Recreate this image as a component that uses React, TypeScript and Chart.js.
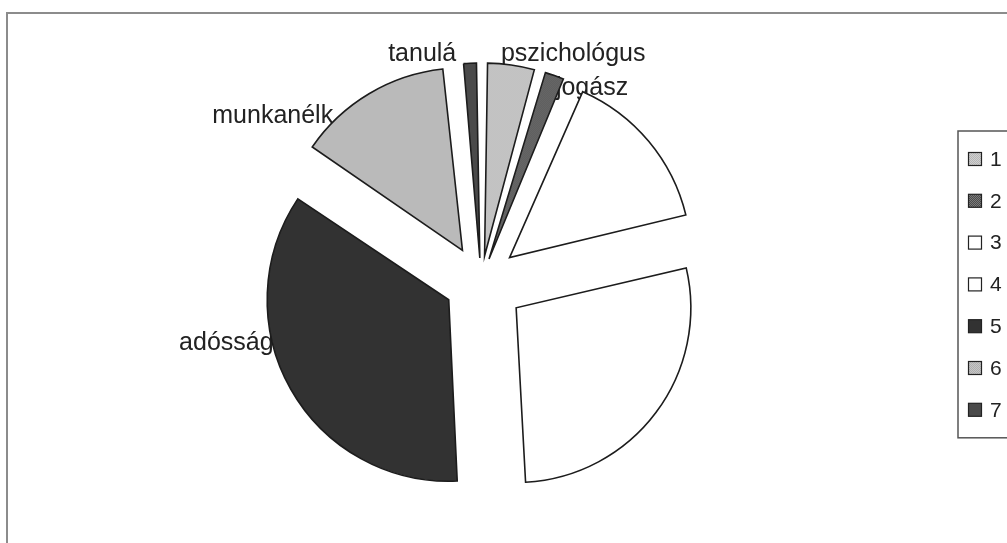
import React, { useEffect, useRef } from "react";
import { Chart, registerables } from "chart.js";

Chart.register(...registerables);

// ---- data ----
const categories = ["1", "2", "3", "4", "5", "6", "7"];
const sliceNames = ["pszichológus", "jogász", "klubok", "Bihar", "adósságkezelés", "munkanélk.", "tanulá"];
const values = [4.4, 2.1, 14.8, 27.8, 35.3, 13.9, 1.6];

// ---- style / layout ----
const sliceColors = ["#d0d0d0", "#4c4c4c", "#ffffff", "#ffffff", "#323232", "#c6c6c6", "#4a4a4a"];
// second tone for the dotted (patterned) fills; null = solid
const dotColors: (string | null)[] = ["#b6b6b6", "#7a7a7a", null, null, null, "#aeaeae", null];
const EXPLODE = 44.6; // px each slice is pulled out from centre
const RADIUS = 174;
// label anchor (text centre, baseline) relative to pie centre, in units of radius
const labelPlacement: number[][] = [
  [0.53, -1.268],
  [0.638, -1.072],
  [0.743, -0.486],
  [0.72, 0.364],
  [-1.22, 0.393],
  [-1.177, -0.911],
  [-0.338, -1.268],
];
const FONT = '"Liberation Sans", Arial, sans-serif';

const total = values.reduce((a, b) => a + b, 0);

function makeFill(base: string, dot: string | null): string | CanvasPattern {
  if (!dot) return base;
  const c = document.createElement("canvas");
  c.width = 2;
  c.height = 2;
  const g = c.getContext("2d")!;
  g.fillStyle = base;
  g.fillRect(0, 0, 2, 2);
  g.fillStyle = dot;
  g.fillRect(0, 0, 1, 1);
  g.fillRect(1, 1, 1, 1);
  const p = g.createPattern(c, "repeat");
  return p || base;
}

const decor = {
  id: "decor",
  beforeDatasetsDraw(chart: any) {
    const ctx = chart.ctx as CanvasRenderingContext2D;
    const meta = chart.getDatasetMeta(0);
    const a0 = meta.data[0];
    const cx = a0.x;
    const cy = a0.y;
    const r = a0.outerRadius;
    ctx.save();
    // outer frame
    ctx.strokeStyle = "#8c8c8c";
    ctx.lineWidth = 2;
    ctx.strokeRect(7, 13, 1100, 600);
    // slice labels (drawn under the slices)
    ctx.font = "25px " + FONT;
    ctx.fillStyle = "#222222";
    ctx.textAlign = "center";
    ctx.textBaseline = "alphabetic";
    sliceNames.forEach((name, i) => {
      const [fx, fy] = labelPlacement[i];
      ctx.fillText(name, cx + fx * r, cy + fy * r);
    });
    ctx.restore();
  },
  afterDraw(chart: any) {
    const ctx = chart.ctx as CanvasRenderingContext2D;
    const fills = chart.data.datasets[0].backgroundColor;
    ctx.save();
    const boxX = 958;
    const boxY = 131;
    const step = 41.8;
    const firstY = 159;
    const boxH = firstY + step * (categories.length - 1) + 28 - boxY;
    ctx.fillStyle = "#ffffff";
    ctx.strokeStyle = "#555555";
    ctx.lineWidth = 1.5;
    ctx.fillRect(boxX, boxY, 100, boxH);
    ctx.strokeRect(boxX, boxY, 100, boxH);
    ctx.font = "21px " + FONT;
    ctx.textAlign = "left";
    ctx.textBaseline = "middle";
    categories.forEach((c, i) => {
      const y = firstY + i * step;
      ctx.fillStyle = fills[i];
      ctx.fillRect(968.5, y - 6.5, 13, 13);
      ctx.strokeStyle = "#222222";
      ctx.lineWidth = 1.2;
      ctx.strokeRect(968.5, y - 6.5, 13, 13);
      ctx.fillStyle = "#222222";
      ctx.fillText(c, 990, y + 1);
    });
    ctx.restore();
  },
};

export default function App() {
  const ref = useRef<HTMLCanvasElement | null>(null);
  useEffect(() => {
    if (!ref.current) return;
    const fills = sliceColors.map((c, i) => makeFill(c, dotColors[i]));
    const chart = new Chart(ref.current, {
      type: "pie",
      data: {
        labels: categories,
        datasets: [
          {
            data: values,
            backgroundColor: fills,
            borderColor: "#1c1c1c",
            borderWidth: 1.6,
            borderJoinStyle: "miter",
            radius: RADIUS,
            offset: (c: any) => {
              if (c.dataIndex === undefined) return 0;
              const circ = (2 * Math.PI * values[c.dataIndex]) / total;
              const fix = 1 - Math.sin(Math.min(Math.PI, circ));
              return (4 * EXPLODE) / (1 + fix);
            },
          } as any,
        ],
      },
      options: {
        responsive: false,
        animation: false,
        events: [],
        layout: { padding: { top: 20, right: 45, left: 0, bottom: 0 } },
        plugins: {
          legend: { display: false },
          tooltip: { enabled: false },
          title: { display: false },
        },
      },
      plugins: [decor],
    });
    return () => chart.destroy();
  }, []);
  return (
    <div style={{ position: "fixed", left: 0, top: 0, width: 1007, height: 543, background: "#fff", overflow: "hidden" }}>
      <canvas ref={ref} width={1007} height={543} />
    </div>
  );
}
